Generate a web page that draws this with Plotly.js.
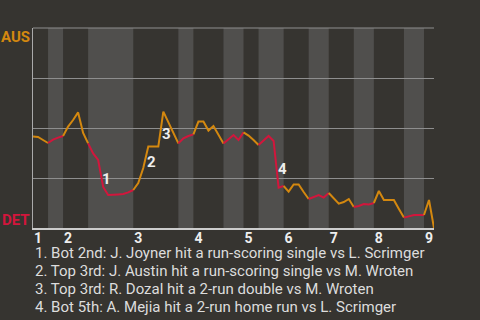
<!DOCTYPE html>
<html>
<head>
<meta charset="utf-8">
<script src="https://cdn.plot.ly/plotly-3.0.1.min.js"></script>
<style>
  html, body { margin: 0; padding: 0; background: #363430; }
  #chart { width: 480px; height: 320px; }
</style>
</head>
<body>
<div id="chart"></div>
<script>
// Win probability (AUS %) after each play, Aussies at Detroit
const ausWinPct = [
  45.7, 45.5, 44.0, 42.5, 44.2, 45.2, 46.0, 50.7, 54.0, 57.8,
  47.5, 42.3, 37.3, 34.0, 20.5, 16.5, 16.5, 16.8, 17.0, 17.8,
  19.0, 22.5, 30.0, 40.7, 40.7, 40.7, 58.2, 53.0, 47.5, 42.3,
  44.8, 46.0, 46.8, 53.2, 53.2, 48.7, 51.0, 46.5, 42.3, 44.5,
  46.5, 44.0, 47.8, 46.2, 44.0, 41.5, 44.0, 46.0, 43.5, 20.2,
  21.0, 18.2, 21.8, 21.8, 18.0, 14.5, 15.5, 16.5, 15.2, 17.5,
  14.8, 12.2, 13.0, 14.5, 10.5, 11.0, 12.0, 11.8, 12.5, 18.5,
  14.0, 14.0, 14.0, 9.5, 5.2, 6.0, 6.5, 6.5, 6.5, 14.0,
  0.0
];

// Play index where each half-inning begins (last entry = final play)
const halfInningBounds = [0, 3, 6, 11, 20, 29, 32, 38, 42, 45, 50, 55, 59, 64, 68, 74, 78, 80];

// Inning tick marks
const inningStartPlays = [0, 6, 20, 32, 42, 50, 59, 68, 78];
const inningLabels = ['1', '2', '3', '4', '5', '6', '7', '8', '9'];

// Key plays (index of the play that caused the swing) and their notes
const eventPlays = [14, 23, 26, 49];
const eventNotes = [
  '1. Bot 2nd: J. Joyner hit a run-scoring single vs L. Scrimger',
  '2. Top 3rd: J. Austin hit a run-scoring single vs M. Wroten',
  '3. Top 3rd: R. Dozal hit a 2-run double vs M. Wroten',
  '4. Bot 5th: A. Mejia hit a 2-run home run vs L. Scrimger'
];

const teamNames = ['AUS', 'DET'];
const AUS_COLOR = '#d4880f';
const DET_COLOR = '#d2163c';
const BG = '#363430';
const BAND = '#504f4d';
const GRID = '#8e8e8e';
const FONT = 'Roboto, "Noto Sans", sans-serif';

// One line trace per half-inning, coloured by the batting team
const traces = [];
for (let i = 0; i < halfInningBounds.length - 1; i++) {
  const a = halfInningBounds[i], b = halfInningBounds[i + 1];
  const xs = [], ys = [];
  for (let p = a; p <= b; p++) { xs.push(p); ys.push(ausWinPct[p]); }
  traces.push({
    x: xs, y: ys, type: 'scatter', mode: 'lines',
    line: { color: i % 2 === 0 ? AUS_COLOR : DET_COLOR, width: 2 },
    hoverinfo: 'skip', showlegend: false
  });
}

// Shaded bands for the bottom half of each inning
const shapes = [];
for (let i = 1; i < halfInningBounds.length - 1; i += 2) {
  shapes.push({
    type: 'rect', layer: 'below', xref: 'x', yref: 'paper',
    x0: halfInningBounds[i], x1: halfInningBounds[i + 1], y0: 0, y1: 1,
    fillcolor: BAND, line: { width: 0 }
  });
}
// Top edge of the scale (100%)
shapes.push({
  type: 'line', layer: 'below', xref: 'paper', yref: 'paper',
  x0: 0, x1: 1, y0: 1, y1: 1, line: { color: GRID, width: 1 }
});

const annotations = [];
// Event markers at the middle of each swing
eventPlays.forEach((p, k) => {
  annotations.push({
    x: p - 0.5, y: (ausWinPct[p - 1] + ausWinPct[p]) / 2,
    xref: 'x', yref: 'y', text: String(k + 1), showarrow: false,
    xshift: 6, yshift: -5,
    font: { family: FONT, size: 15, color: '#eeeeee', weight: 'bold' }
  });
});
// Team labels at the ends of the probability scale
annotations.push({
  xref: 'paper', yref: 'paper', x: 0, y: 1, xanchor: 'right', yanchor: 'top',
  xshift: -1, yshift: 2, text: '<b>' + teamNames[0] + '</b>', showarrow: false,
  font: { family: FONT, size: 15, color: AUS_COLOR }
});
annotations.push({
  xref: 'paper', yref: 'paper', x: 0, y: 0, xanchor: 'right', yanchor: 'bottom',
  xshift: -1, yshift: -3, text: '<b>' + teamNames[1] + '</b>', showarrow: false,
  font: { family: FONT, size: 15, color: DET_COLOR }
});
// Notes under the chart
eventNotes.forEach((t, k) => {
  annotations.push({
    xref: 'paper', yref: 'paper', x: 0, y: (228 - (253.3 + 18 * k)) / 200,
    xanchor: 'left', yanchor: 'middle', xshift: 0,
    text: t, showarrow: false,
    font: { family: FONT, size: 15, color: '#dddddd' }
  });
});

const layout = {
  width: 480, height: 320,
  margin: { l: 33, r: 46, t: 28, b: 92, pad: 0 },
  paper_bgcolor: BG, plot_bgcolor: BG,
  showlegend: false,
  xaxis: {
    range: [0, 80], tickmode: 'array', tickvals: inningStartPlays, ticktext: inningLabels,
    showgrid: false, zeroline: false, showline: true, linecolor: '#cccccc', linewidth: 2,
    ticks: '', ticklen: 0, ticklabelshift: 5, ticklabelstandoff: -4,
    tickfont: { family: FONT, size: 14, color: '#eeeeee', weight: 'bold' }
  },
  yaxis: {
    range: [0, 100], tickmode: 'linear', tick0: 0, dtick: 25,
    showticklabels: false, ticks: '', showgrid: true, gridcolor: GRID, gridwidth: 1,
    zeroline: false, showline: true, linecolor: '#aaaaaa', linewidth: 1
  },
  shapes: shapes,
  annotations: annotations
};

Plotly.newPlot('chart', traces, layout, { staticPlot: true, displayModeBar: false });
</script>
</body>
</html>
